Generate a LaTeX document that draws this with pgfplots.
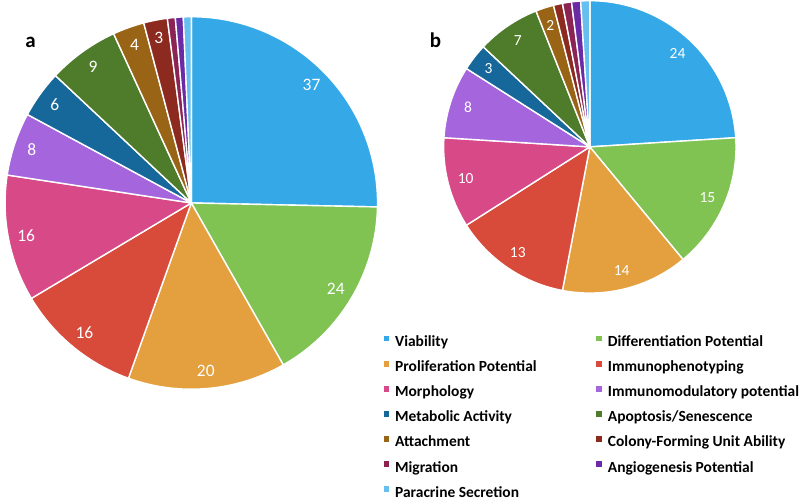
\documentclass[border=0pt]{standalone}
\usepackage{fontspec}
\setmainfont{Carlito}
\usepackage{pgfplots}
\usepackage{pgfplotstable}
\pgfplotsset{compat=1.18}

\definecolor{cViab}{HTML}{35A9E8}
\definecolor{cDiff}{HTML}{80C353}
\definecolor{cProl}{HTML}{E4A03F}
\definecolor{cImph}{HTML}{D84B3B}
\definecolor{cMorph}{HTML}{D74A87}
\definecolor{cImmod}{HTML}{A565DD}
\definecolor{cMeta}{HTML}{17689A}
\definecolor{cApop}{HTML}{4E7C2B}
\definecolor{cAtt}{HTML}{9A6416}
\definecolor{cCol}{HTML}{8C2A1F}
\definecolor{cMig}{HTML}{8C2355}
\definecolor{cAng}{HTML}{6B2BA7}
\definecolor{cPara}{HTML}{66BFEE}

\pgfplotstableread{
color value
cViab 37
cDiff 24
cProl 20
cImph 16
cMorph 16
cImmod 8
cMeta 6
cApop 9
cAtt 4
cCol 3
cMig 1
cAng 1
cPara 1
}\dataA

\pgfplotstableread{
color value
cViab 24
cDiff 15
cProl 14
cImph 13
cMorph 10
cImmod 8
cMeta 3
cApop 7
cAtt 2
cCol 1
cMig 1
cAng 1
cPara 1
}\dataB

% #1 table, #2 cx, #3 cy, #4 radius, #5 label radius, #6 label font size
\newcommand{\drawpie}[6]{%
  \pgfplotstablegetrowsof{#1}\pgfmathtruncatemacro\lastrow{\pgfplotsretval-1}%
  \gdef\cumsum{0}%
  \pgfplotstableforeachcolumnelement{value}\of#1\as\vv{%
    \pgfmathsetmacro\tmp{\cumsum+\vv}\xdef\cumsum{\tmp}}%
  \let\total\cumsum
  \gdef\startval{0}%
  \pgfplotsforeachungrouped \i in {0,...,\lastrow}{%
    \pgfplotstablegetelem{\i}{value}\of#1\let\vv\pgfplotsretval
    \pgfplotstablegetelem{\i}{color}\of#1\let\cc\pgfplotsretval
    \pgfmathsetmacro\fA{\startval/\total}%
    \pgfmathsetmacro\fB{(\startval+\vv)/\total}%
    \pgfmathsetmacro\aA{90-360*\fA}%
    \pgfmathsetmacro\aB{90-360*\fB}%
    \pgfmathsetmacro\aM{(\aA+\aB)/2}%
    \fill[fill=\cc, draw=white, line width=1.4bp, line join=round]
      (axis cs:#2,#3) -- ++(\aA:#4bp) arc[start angle=\aA, end angle=\aB, radius=#4bp] -- cycle;
    \ifdim\vv pt>1.5pt
      \path (axis cs:#2,#3) ++(\aM:#5bp) node[text=white, font=\fontsize{#6}{#6}\selectfont, inner sep=0pt] {\vv};
    \fi
    \pgfmathsetmacro\tmp{\startval+\vv}\xdef\startval{\tmp}%
  }%
}

\pgfplotsset{
  piebase/.style={
    width=799bp, height=500bp, scale only axis,
    xmin=0, xmax=799, ymin=0, ymax=500,
    axis lines=none, clip=false,
    legend cell align=left,
    legend image code/.code={\fill[##1, draw=none] (0bp,1.6bp) rectangle (5.6bp,7.2bp);},
    legend style={draw=none, fill=none, inner sep=0pt, outer sep=0pt,
      row sep=10.5bp, column sep=6bp,
      font=\bfseries\fontsize{15.5}{17}\selectfont,
      nodes={inner sep=0pt, text height=11bp, text depth=3.5bp}},
  }
}

\begin{document}
\begin{tikzpicture}
\begin{axis}[piebase,
  legend style={at={(axis cs:380,164.3)}, anchor=north west}]
\addlegendimage{fill=cViab, draw=none}\addlegendentry{Viability}
\addlegendimage{fill=cProl, draw=none}\addlegendentry{Proliferation Potential}
\addlegendimage{fill=cMorph, draw=none}\addlegendentry{Morphology}
\addlegendimage{fill=cMeta, draw=none}\addlegendentry{Metabolic Activity}
\addlegendimage{fill=cAtt, draw=none}\addlegendentry{Attachment}
\addlegendimage{fill=cMig, draw=none}\addlegendentry{Migration}
\addlegendimage{fill=cPara, draw=none}\addlegendentry{Paracrine Secretion}
\pgfplotsextra{\drawpie{\dataA}{188}{297}{186}{168}{17.5}}
\node[anchor=base west, font=\bfseries\fontsize{21}{21}\selectfont, inner sep=0pt] at (axis cs:22,452) {a};
\end{axis}
\begin{axis}[piebase,
  legend style={at={(axis cs:592.5,164.3)}, anchor=north west}]
\addlegendimage{fill=cDiff, draw=none}\addlegendentry{Differentiation Potential}
\addlegendimage{fill=cImph, draw=none}\addlegendentry{Immunophenotyping}
\addlegendimage{fill=cImmod, draw=none}\addlegendentry{Immunomodulatory potential}
\addlegendimage{fill=cApop, draw=none}\addlegendentry{Apoptosis/Senescence}
\addlegendimage{fill=cCol, draw=none}\addlegendentry{Colony-Forming Unit Ability}
\addlegendimage{fill=cAng, draw=none}\addlegendentry{Angiogenesis Potential}
\pgfplotsextra{\drawpie{\dataB}{586}{353}{146}{128}{15.5}}
\node[anchor=base west, font=\bfseries\fontsize{21}{21}\selectfont, inner sep=0pt] at (axis cs:426,452) {b};
\end{axis}
\end{tikzpicture}
\end{document}
